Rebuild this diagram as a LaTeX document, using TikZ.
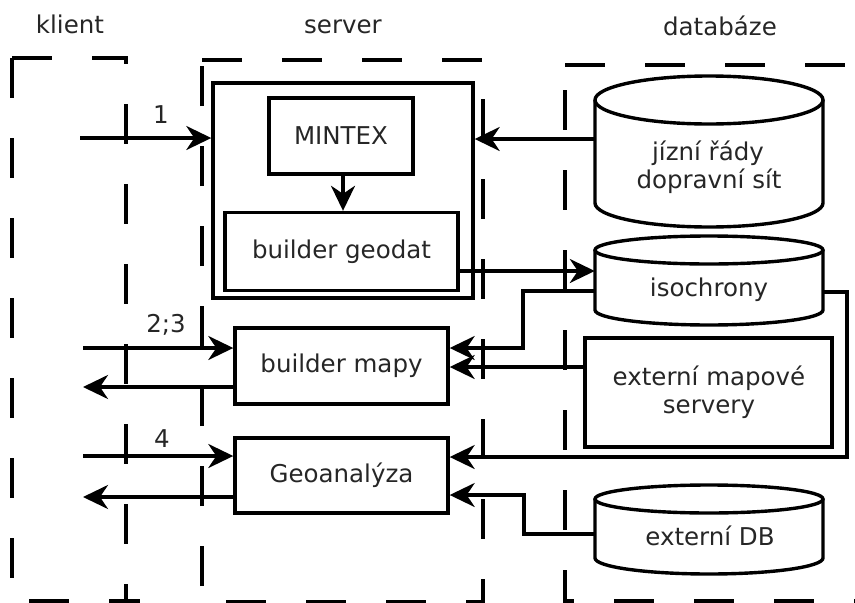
\documentclass[tikz,border=0pt]{standalone}
\usepackage{fontspec}
\setmainfont{DejaVu Sans}
\usetikzlibrary{arrows.meta}
\newcommand\mycyl[6]{% xl xr yt ryt yb ryb
  \pgfmathsetmacro\cylxc{(#1+#2)/2}%
  \pgfmathsetmacro\cylrx{(#2-#1)/2}%
  \pgfmathsetmacro\cylkx{0.5523*\cylrx}%
  \pgfmathsetmacro\cylky{0.5523*#6}%
  \pgfmathsetmacro\cylyb{#5+#6}%
  \draw[ln] (\cylxc,#3) ellipse [x radius=\cylrx pt, y radius=#4 pt];
  \draw[ln] (#1,#3) -- (#1,#5) .. controls (#1,#5+\cylky) and (\cylxc-\cylkx,\cylyb) .. (\cylxc,\cylyb) .. controls (\cylxc+\cylkx,\cylyb) and (#2,#5+\cylky) .. (#2,#5) -- (#2,#3);
}
\begin{document}
\begin{tikzpicture}[x=1pt,y=-1pt,
  every node/.style={font=\fontsize{24.5}{29}\selectfont, text=black!85, inner sep=0pt},
  ln/.style={line width=3.4pt, draw=black},
  bx/.style={draw=black, line width=3.4pt},
  dsh/.style={line width=3.4pt, dash pattern=on 40pt off 40pt},
  arr/.style={ln, -{Stealth[length=25pt,width=24pt,inset=8pt]}}
]
\useasboundingbox (0,0) rectangle (855,603);
\fill[white] (0,0) rectangle (855,603);
\clip (0,0) rectangle (855,603);

% titles
\node[anchor=base] (tklient) at (70,33) {klient};
\node[anchor=base] (tserver) at (343,33) {server};
\node[anchor=base] (tdb) at (720,35) {databáze};

% dashed regions
\draw[dsh] (12,58) -- (126,58) -- (126,620);
\draw[dsh] (12,58) -- (12,601) -- (140,601);
\draw[dsh] (202,60) -- (483,60) -- (483,602) -- (202,602) -- cycle;
\draw[dsh] (565,65) -- (880,65);
\draw[dsh, dash phase=55pt] (565,65) -- (565,601) -- (880,601);

% server boxes
\node[bx, minimum width=260pt, minimum height=215pt] (outer) at (343,190.5) {};
\node[bx, minimum width=144pt, minimum height=76pt] (mintex) at (341,136) {MINTEX};
\node[bx, minimum width=233pt, minimum height=78pt] (bgeo) at (341.5,251.5) {builder geodat};
\node[bx, minimum width=213pt, minimum height=76pt] (bmapy) at (341.5,366) {builder mapy};
\node[bx, minimum width=213pt, minimum height=75pt] (geo) at (341.5,475.5) {Geoanalýza};

% database
\mycyl{595}{823}{100}{24}{203}{24}
\node[minimum width=228pt, minimum height=103pt] (jizni) at (709,151.5) {};
\node[anchor=base] (jizniA) at (708,160) {jízní řády};
\node[anchor=base] (jizniB) at (709,188) {dopravní sít};

\mycyl{595}{823}{250}{14}{310}{15}
\node[minimum width=228pt, minimum height=60pt] (iso) at (709,280) {};
\node[anchor=base] (isoT) at (709,296) {isochrony};

\node[bx, minimum width=247pt, minimum height=109pt] (extmap) at (708.5,392.5) {};
\node[anchor=base] (extmapA) at (709,385) {externí mapové};
\node[anchor=base] (extmapB) at (709,413) {servery};

\mycyl{595}{823}{499}{14}{558}{16}
\node[minimum width=228pt, minimum height=59pt] (extdb) at (709,528.5) {};
\node[anchor=base] (extdbT) at (710,545) {externí DB};

% connectors
\coordinate (in1) at (80,138);
\draw[arr] (in1) -- (outer.west |- in1);
\node[anchor=base] (l1) at (161,123) {1};
\draw[arr] (jizni.west |- 0,139) -- (outer.east |- 0,139);
\draw[arr] (mintex.south -| 343,0) -- (bgeo.north -| 343,0);
\draw[arr] (bgeo.east |- 0,271) -- (iso.west |- 0,271);
\draw[arr] (iso.west |- 0,291) -| (523,348) -- (bmapy.east |- 0,348);
\draw[arr] (extmap.west |- 0,367) -- (bmapy.east |- 0,367);
\draw[arr] (iso.east |- 0,292) -| (847,457) -- (geo.east |- 0,457);
\draw[arr] (extdb.west |- 0,534) -| (524,495) -- (geo.east |- 0,495);

\coordinate (in23) at (83,348);
\draw[arr] (in23) -- (bmapy.west |- in23);
\coordinate (out23) at (83,387);
\draw[arr] (bmapy.west |- out23) -- (out23);
\node[anchor=base] (l23) at (166,332) {2;3};
\coordinate (in4) at (83,456);
\draw[arr] (in4) -- (geo.west |- in4);
\coordinate (out4) at (83,497);
\draw[arr] (geo.west |- out4) -- (out4);
\node[anchor=base] (l4) at (162,447) {4};
\end{tikzpicture}
\end{document}
